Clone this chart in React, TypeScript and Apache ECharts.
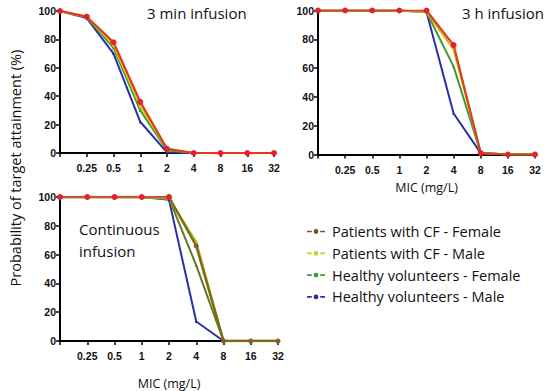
import React, { useEffect, useRef } from "react";
import * as echarts from "echarts";

const categories = ["0.125", "0.25", "0.5", "1", "2", "4", "8", "16", "32"];
const seriesNames = [
  "Patients with CF - Female",
  "Patients with CF - Male",
  "Healthy volunteers - Female",
  "Healthy volunteers - Male",
];

// 3 min infusion
const min3CFFemale = [100, 96, 78, 36, 3, 0, 0, 0, 0];
const min3CFMale = [100, 96, 76, 33, 3, 0, 0, 0, 0];
const min3HVFemale = [100, 95.5, 74, 30, 2, 0, 0, 0, 0];
const min3HVMale = [100, 95, 70, 22, 0.5, 0, 0, 0, 0];

// 3 h infusion
const h3CFFemale = [100, 100, 100, 100, 100, 76, 1, 0, 0];
const h3CFMale = [100, 100, 100, 100, 99, 73, 1, 0, 0];
const h3HVFemale = [100, 100, 100, 100, 99, 61, 1, 0, 0];
const h3HVMale = [100, 100, 100, 100, 99, 28.5, 1, 0, 0];

// Continuous infusion
const ciCFFemale = [100, 100, 100, 100, 100, 66, 0, 0, 0];
const ciCFMale = [100, 100, 100, 100, 99, 68.5, 0, 0, 0];
const ciHVFemale = [100, 100, 100, 100, 99, 52.5, 0, 0, 0];
const ciHVMale = [100, 100, 100, 100, 98, 13.5, 0, 0, 0];

const yTicks = [0, 20, 40, 60, 80, 100];

const legendColors = ["#7a4f22", "#c3d21a", "#3f9a36", "#2b2fa8"];
const RED = "#e5222a";

export default function App() {
  const ref = useRef<HTMLDivElement>(null);
  useEffect(() => {
    if (!ref.current) return;
    const chart = echarts.init(ref.current, undefined, { renderer: "svg" });

    const labelStyle = {
      fontFamily: "Liberation Sans",
      fontWeight: "bold" as const,
      fontSize: 10.5,
      color: "#111",
    };
    const mkX = (gi: number, name: string, nameGap: number, margin: number) => ({
      type: "category",
      gridIndex: gi,
      data: categories,
      boundaryGap: false,
      name,
      nameLocation: "middle",
      nameGap,
      nameTextStyle: { fontFamily: "Open Sans", fontSize: 12.5, color: "#111" },
      axisLine: { show: true, lineStyle: { color: "#000", width: 2 } },
      axisTick: { show: true, length: 4, lineStyle: { color: "#000", width: 1.5 } },
      axisLabel: {
        ...labelStyle,
        margin,
        formatter: (v: string, i: number) => (i === 0 ? "" : v),
      },
      splitLine: { show: false },
    });
    const mkY = (gi: number) => ({
      type: "value",
      gridIndex: gi,
      min: yTicks[0],
      max: yTicks[yTicks.length - 1],
      interval: yTicks[1] - yTicks[0],
      axisLine: { show: true, lineStyle: { color: "#000", width: 2 } },
      axisTick: { show: true, length: 4, lineStyle: { color: "#000", width: 1.5 } },
      axisLabel: { ...labelStyle, margin: 4 },
      splitLine: { show: false },
    });

    const small = (name: string, color: string, data: number[], gi: number, width = 2) => ({
      type: "line",
      name,
      xAxisIndex: gi,
      yAxisIndex: gi,
      data,
      symbol: "triangle",
      symbolSize: 3,
      lineStyle: { color, width },
      itemStyle: { color },
    });
    const redDots = (name: string, data: (number | null)[], gi: number, lineColor: string, width = 2.2) => ({
      type: "line",
      name,
      xAxisIndex: gi,
      yAxisIndex: gi,
      data,
      symbol: "circle",
      symbolSize: 6,
      lineStyle: { color: lineColor, width },
      itemStyle: { color: RED },
    });

    const ciRedPart = ciCFFemale.map((v, i) => (i <= 4 ? v : null));

    const option = {
      animation: false,
      grid: [
        { left: 60, top: 11, width: 214, height: 142 },
        { left: 318, top: 10.5, width: 217, height: 144 },
        { left: 60, top: 197, width: 218, height: 146 },
      ],
      xAxis: [mkX(0, "", 20, 9), mkX(1, "MIC (mg/L)", 26, 10), mkX(2, "MIC (mg/L)", 36, 9)],
      yAxis: [mkY(0), mkY(1), mkY(2)],
      legend: {
        orient: "vertical",
        left: 302,
        top: 219,
        itemWidth: 18,
        itemHeight: 5,
        itemGap: 6.8,
        icon: "path://M0,2 L4,2 L4,3.4 L0,3.4 Z M7.5,0.7 A2,2 0 1 1 7.5,4.7 A2,2 0 1 1 7.5,0.7 Z M11,2 L15,2 L15,3.4 L11,3.4 Z",
        textStyle: { fontFamily: "Open Sans", fontSize: 14.5, color: "#111", lineHeight: 14, padding: [0, 0, 0, 2] },
        data: seriesNames.map((n, i) => ({
          name: n,
          itemStyle: { color: legendColors[i] },
          lineStyle: { color: legendColors[i] },
        })),
      },
      graphic: [
        {
          type: "text",
          left: 147,
          top: 5,
          style: { text: "3 min infusion", font: "15px 'Open Sans'", fill: "#111" },
        },
        {
          type: "text",
          left: 462,
          top: 5,
          style: { text: "3 h infusion", font: "15px 'Open Sans'", fill: "#111" },
        },
        {
          type: "text",
          left: 79,
          top: 218,
          style: { text: "Continuous\ninfusion", font: "15px 'Open Sans'", lineHeight: 22, fill: "#111" },
        },
        {
          type: "text",
          x: 15,
          y: 168,
          rotation: Math.PI / 2,
          style: {
            text: "Probability of target attainment (%)",
            font: "14.5px 'Open Sans'",
            fill: "#111",
            align: "center",
            verticalAlign: "middle",
          },
        },
      ],
      series: [
        small(seriesNames[3], legendColors[3], min3HVMale, 0),
        small(seriesNames[2], legendColors[2], min3HVFemale, 0),
        small(seriesNames[1], legendColors[1], min3CFMale, 0),
        redDots(seriesNames[0], min3CFFemale, 0, "#e8361e"),

        small(seriesNames[3], legendColors[3], h3HVMale, 1),
        small(seriesNames[2], legendColors[2], h3HVFemale, 1),
        small(seriesNames[1], "#d4b21a", h3CFMale, 1),
        redDots(seriesNames[0], h3CFFemale, 1, "#d9401c"),

        small(seriesNames[3], legendColors[3], ciHVMale, 2),
        small(seriesNames[2], "#5f7a22", ciHVFemale, 2),
        small(seriesNames[1], "#b8b812", ciCFMale, 2, 2.4),
        {
          ...small(seriesNames[0], "#7a6a1c", ciCFFemale, 2, 2.4),
          symbol: "circle",
          symbolSize: 5,
          itemStyle: { color: "#8a5a26" },
        },
        { ...redDots("ciRed", ciRedPart, 2, "#f04a50", 1.3), legendHoverLink: false },
      ],
    };
    chart.setOption(option as any);
    return () => chart.dispose();
  }, []);
  return (
    <div
      ref={ref}
      style={{ position: "absolute", left: 0, top: 0, width: 550, height: 391, background: "#fff" }}
    />
  );
}
